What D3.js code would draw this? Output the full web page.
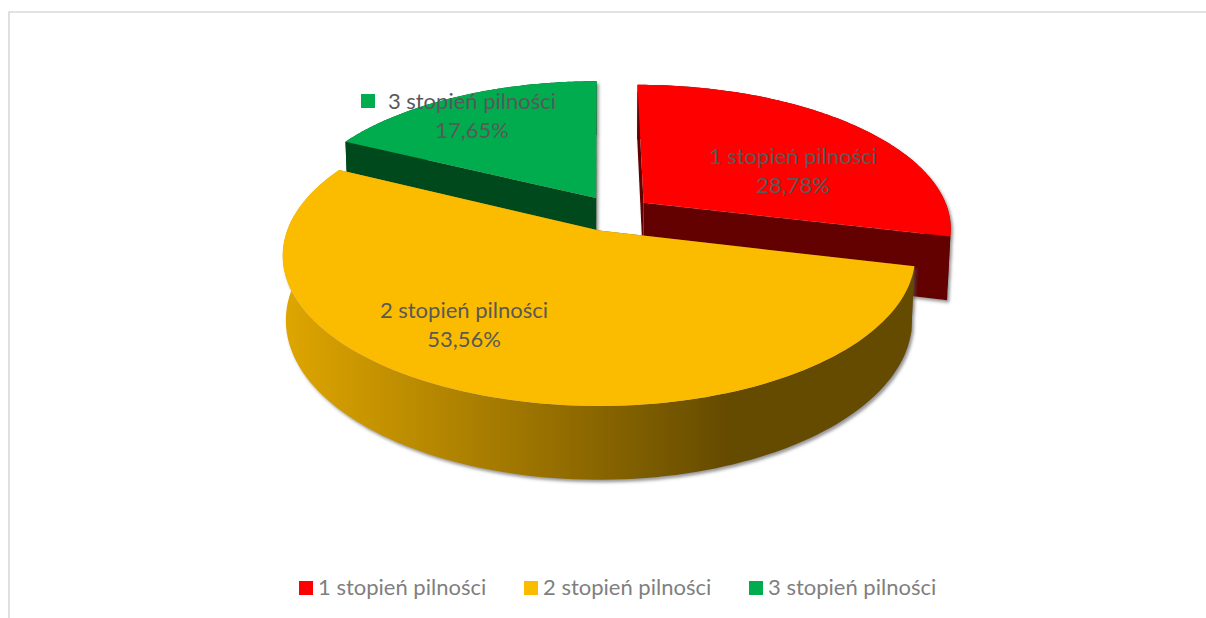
<!DOCTYPE html>
<html><head><meta charset="utf-8">
<script src="https://cdn.jsdelivr.net/npm/d3@7"></script>
<style>html,body{margin:0;padding:0;background:#fff;overflow:hidden}svg{display:block}text{font-family:Lato,"Open Sans",sans-serif}</style>
</head><body><svg id="c" width="1206" height="618"></svg>
<script>
const categories = ["1 stopień pilności", "2 stopień pilności", "3 stopień pilności"];
const values = [28.78, 53.56, 17.65];
const topColors = ["#ff0000", "#fbbc00", "#00ac4e"];
const sideColors = ["#640000", "url(#yellowSide)", "#00491f"];

// layout: 3-D view of the pie plane
const view = {cx: 600, cy: 231, R: 312, D: 1872, tilt: 0.469, H: 64, sink: 0.28};
const explode = [[45, -62], [-1, -1], [-4, -73]];
const labelAt = [[793, 157], [464, 311], [472, 102]];
const keyAt = [[686, 150], [354, 304], [361, 94]];
const labelSize = 22, legendSize = 22;

const project = (X, Z, H) => {
  const s = view.D / (view.D - Z + H * view.sink);
  return [view.cx + X * s, view.cy + (Z * view.tilt + H) * s];
};
const svg = d3.select("#c");
const defs = svg.append("defs");
const grad = defs.append("linearGradient").attr("id", "yellowSide")
  .attr("gradientUnits", "userSpaceOnUse").attr("x1", 283).attr("x2", 920).attr("y1", 0).attr("y2", 0);
[[0, "#dfa600"], [0.7, "#654b00"], [1, "#654b00"]].forEach(d =>
  grad.append("stop").attr("offset", d[0]).attr("stop-color", d[1]));
const f = defs.append("filter").attr("id", "shadow").attr("filterUnits", "userSpaceOnUse")
  .attr("x", 0).attr("y", 0).attr("width", 1206).attr("height", 618);
f.append("feDropShadow").attr("dx", 2).attr("dy", 2.5).attr("stdDeviation", 1.6)
  .attr("flood-color", "#555").attr("flood-opacity", 0.6);

// frame
svg.append("path").attr("d", d3.line()([[9, 618], [9, 12], [1206, 12]]))
  .attr("fill", "none").attr("stroke", "#d9d9d9").attr("stroke-width", 1.6);

const pie = d3.pie().sort(null).startAngle(0).endAngle(2 * Math.PI);
const arcs = pie(values);
const line = d3.line();
const sample = (a0, a1) => d3.range(0, 121).map(i => a0 + (a1 - a0) * i / 120);

const slices = arcs.map((a, i) => {
  const [ox, oz] = explode[i];
  const pt = (th, r, H) => project(ox + r * Math.sin(th), oz - r * Math.cos(th), H);
  const ths = sample(a.startAngle, a.endAngle);
  const top = [pt(0, 0, 0), ...ths.map(t => pt(t, view.R, 0))];
  const rim = [...ths.map(t => pt(t, view.R, 0)), ...ths.slice().reverse().map(t => pt(t, view.R, view.H))];
  const face = th => [pt(0, 0, 0), pt(th, view.R, 0), pt(th, view.R, view.H), pt(0, 0, view.H)];
  return {i, top, rim, faces: [face(a.startAngle), face(a.endAngle)]};
});

// painter's order: back slices first
[0, 2, 1].forEach(i => {
  const s = slices[i];
  const g = svg.append("g").attr("filter", "url(#shadow)");
  g.append("path").attr("d", line(s.rim) + "Z").attr("fill", sideColors[i]);
  s.faces.forEach(q => g.append("path").attr("d", line(q) + "Z").attr("fill", sideColors[i]));
  g.append("path").attr("d", line(s.top) + "Z").attr("fill", topColors[i]);
});

const pct = d3.formatLocale({decimal: ",", thousands: " ", grouping: [3], currency: ["", ""]}).format(".2f");
categories.forEach((c, i) => {
  svg.append("rect").attr("x", keyAt[i][0]).attr("y", keyAt[i][1]).attr("width", 14).attr("height", 14).attr("fill", topColors[i]);
  const t = svg.append("text").attr("text-anchor", "middle").attr("fill", "#595959").attr("font-size", labelSize);
  t.append("tspan").attr("x", labelAt[i][0]).attr("y", labelAt[i][1] + 7).text(c);
  t.append("tspan").attr("x", labelAt[i][0]).attr("y", labelAt[i][1] + 36).text(pct(values[i]) + "%");
});

// legend
const legendX = d3.scalePoint().domain(categories).range([299, 749]);
categories.forEach((c, i) => {
  const x = legendX(c);
  svg.append("rect").attr("x", x).attr("y", 581).attr("width", 14).attr("height", 14).attr("fill", topColors[i]);
  svg.append("text").attr("x", x + 19).attr("y", 595).attr("fill", "#7f7f7f").attr("font-size", legendSize).text(c);
});
</script></body></html>
